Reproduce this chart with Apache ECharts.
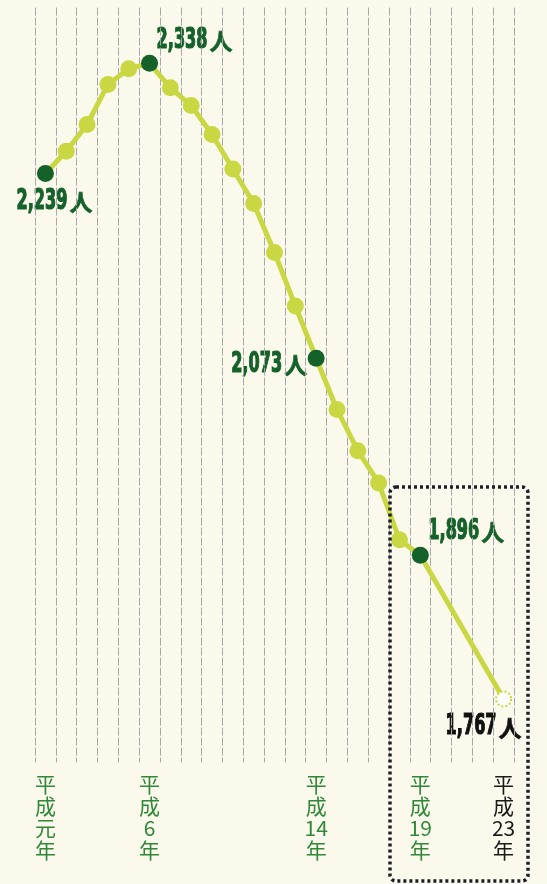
<!DOCTYPE html>
<html>
<head>
<meta charset="utf-8">
<script src="https://cdn.jsdelivr.net/npm/echarts@6/dist/echarts.min.js"></script>
<style>
    html, body { margin: 0; padding: 0; background: #fbf9ec; }
    #chart { width: 547px; height: 884px; }
</style>
</head>
<body>
<div id="chart"></div>
<script>
    // 平成元年〜平成23年
    const years = ['元', '2', '3', '4', '5', '6', '7', '8', '9', '10', '11', '12',
        '13', '14', '15', '16', '17', '18', '19', '20', '21', '22', '23']
    // 人数（20〜22年は途中の点なし）
    const people = [2239, 2259, 2283, 2319, 2333, 2338, 2316, 2300, 2274, 2243, 2212, 2168,
        2120, 2073, 2027, 1990, 1961, 1910, 1896, null, null, null, 1767]
    const shownYears = ['元', '6', '14', '19', '23']
    const keyYears = ['元', '6', '14', '19']
    const lastYear = '23'

    const darkGreen = '#14612a'
    const lightGreen = '#c9d842'

    // ラベル（数字の左端・中央）の点からのずれ
    const labelOffset = {
        '元': [-29, 28],
        '6': [7, -23],
        '14': [-85, 6],
        '19': [8, -24],
        '23': [-58, 28]
    }

    const numFont = "bold 28px 'DejaVu Sans Condensed', sans-serif"
    const numScale = 0.64 // 細長い書体の代わり

    function fmt(v) {
        return v.toLocaleString('en-US')
    }

    let measureCtx = document.createElement('canvas').getContext('2d')
    function textWidth(s, font) {
        measureCtx.font = font
        return measureCtx.measureText(s).width
    }

    let seriesData = people.map((v, i) => {
        let y = years[i]
        let item = { value: v }
        if (keyYears.indexOf(y) >= 0) {
            item.itemStyle = { color: darkGreen }
        }
        if (y === lastYear) {
            item.symbolSize = 15
            item.itemStyle = {
                color: '#ffffff',
                borderColor: lightGreen,
                borderWidth: 2,
                borderType: [2, 2]
            }
        }
        return item
    })

    const boxRect = {
        type: 'rect',
        shape: { x: 390, y: 487, width: 138, height: 394, r: 6 },
        style: {
            fill: 'none',
            stroke: '#1b1f2a',
            lineWidth: 3.5,
            lineDash: [3, 3]
        },
        z: 10
    }

    let myChart = echarts.init(document.getElementById('chart'))
    let option = {
        backgroundColor: '#fbf9ec',
        animation: false,
        grid: {
            left: 35,
            right: 33,
            top: 7.6,
            bottom: 121.6
        },
        xAxis: {
            type: 'category',
            boundaryGap: true,
            data: years,
            axisLine: { show: false },
            axisTick: { show: false },
            splitLine: {
                show: true,
                interval: 0,
                lineStyle: {
                    color: '#a8a8a8',
                    width: 1,
                    type: [8, 2]
                }
            },
            axisLabel: {
                interval: 0,
                margin: 11,
                fontFamily: "'Noto Sans CJK JP'",
                fontSize: 21,
                lineHeight: 22,
                color: (value) => value === lastYear ? '#1a1a1a' : '#308838',
                formatter: (value) => {
                    if (shownYears.indexOf(value) < 0) return ''
                    return '平\n成\n' + value + '\n年'
                }
            }
        },
        yAxis: {
            type: 'value',
            min: 1710,
            max: 2388,
            show: false,
            splitLine: { show: false }
        },
        series: [{
            type: 'line',
            data: seriesData,
            connectNulls: true,
            symbol: 'circle',
            symbolSize: 17,
            lineStyle: { color: lightGreen, width: 5 },
            itemStyle: { color: lightGreen },
            z: 3
        }],
        graphic: [boxRect]
    }
    myChart.setOption(option)

    // 数値ラベルは点の位置から置く
    let graphics = [boxRect]
    people.forEach((v, i) => {
        let y = years[i]
        if (!labelOffset[y] || v == null) return
        let p = myChart.convertToPixel({ seriesIndex: 0 }, [i, v])
        let off = labelOffset[y]
        let color = y === lastYear ? '#111111' : darkGreen
        let numW = textWidth(fmt(v), numFont) * numScale
        graphics.push({
            type: 'group',
            x: p[0] + off[0],
            y: p[1] + off[1],
            z: 20,
            children: [{
                type: 'text',
                scaleX: numScale,
                style: {
                    text: fmt(v),
                    font: numFont,
                    fill: color,
                    stroke: color,
                    lineWidth: 1.2,
                    align: 'left',
                    verticalAlign: 'middle',
                    textAlign: 'left',
                    textVerticalAlign: 'middle'
                }
            }, {
                type: 'text',
                x: numW + 2,
                y: 1,
                style: {
                    text: '人',
                    font: "bold 23px 'Noto Sans CJK JP'",
                    fill: color,
                    stroke: color,
                    lineWidth: 0.6,
                    align: 'left',
                    verticalAlign: 'middle',
                    textAlign: 'left',
                    textVerticalAlign: 'middle'
                }
            }]
        })
    })
    myChart.setOption({ graphic: graphics })
</script>
</body>
</html>
